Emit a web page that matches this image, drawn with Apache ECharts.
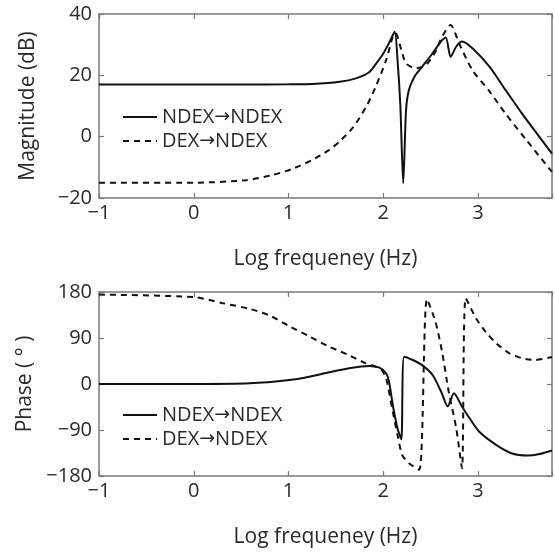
<!DOCTYPE html>
<html>
<head>
<meta charset="utf-8">
<script src="https://cdn.jsdelivr.net/npm/echarts@6/dist/echarts.min.js"></script>
<style>
html,body{margin:0;padding:0;background:#fff;}
#chart{width:555px;height:552px;}
</style>
</head>
<body>
<div id="chart"></div>
<script>
// ---- data ----
var seriesNames = ['NDEX\u2192NDEX', 'DEX\u2192NDEX'];
var xTickLabels = ['-1', '0', '1', '2', '3'];
var magTicks = [-20, 0, 20, 40];
var phaseTicks = [-180, -90, 0, 90, 180];

// Magnitude, NDEX -> NDEX (solid)
var magSolidX = [-1, 0, 0.5, 1.0, 1.25, 1.54, 1.71, 1.85, 1.94, 1.99, 2.06, 2.12, 2.15, 2.18, 2.21, 2.24, 2.27, 2.33, 2.41, 2.52, 2.62, 2.66, 2.71, 2.77, 2.83, 2.94, 3.12, 3.29, 3.46, 3.78];
var magSolidY = [17, 17, 17, 17.1, 17.2, 17.9, 19.0, 21.0, 24.5, 26.6, 30.5, 34.2, 25, 10, -15.2, 8.7, 15.2, 19.6, 22.8, 27.2, 31.5, 32.3, 26, 29.4, 31.0, 28.8, 22.8, 15.2, 7.7, -5.5];

// Magnitude, DEX -> NDEX (dashed)
var magDashX = [-1, 0, 0.55, 0.83, 1.04, 1.25, 1.43, 1.54, 1.68, 1.82, 1.92, 2.03, 2.10, 2.13, 2.19, 2.24, 2.34, 2.45, 2.55, 2.62, 2.71, 2.80, 2.94, 3.12, 3.29, 3.52, 3.78];
var magDashY = [-15, -15, -14.2, -12.5, -10.5, -7.6, -4.3, -1.5, 3, 9.8, 16.3, 25, 32.6, 33.8, 28.3, 23.9, 22.3, 23.4, 27.7, 32.6, 36.4, 30.4, 21.7, 14.8, 7.5, -1.5, -11.5];

// Phase, NDEX -> NDEX (solid)
var phSolidX = [-1, 0, 0.59, 1.01, 1.22, 1.43, 1.64, 1.85, 1.96, 2.03, 2.06, 2.10, 2.15, 2.19, 2.22, 2.31, 2.41, 2.52, 2.61, 2.68, 2.745, 2.83, 2.91, 3.01, 3.19, 3.36, 3.52, 3.65, 3.78];
var phSolidY = [0, 0, 1.3, 7.8, 14.3, 22.8, 30.7, 35.2, 32, 21, 5, -41, -87, -108, 53.5, 47, 37, 17.6, -15, -44, -18, -44, -67, -93, -119, -136, -140, -137, -130];

// Phase, DEX -> NDEX (dashed)
var phDashX = [-1, 0, 0.31, 0.59, 0.80, 1.01, 1.22, 1.43, 1.63, 1.81, 1.92, 1.98, 2.03, 2.10, 2.15, 2.20, 2.27, 2.38, 2.46, 2.55, 2.62, 2.69, 2.77, 2.83, 2.87, 2.98, 3.08, 3.19, 3.33, 3.47, 3.6, 3.78];
var phDashY = [175, 170, 158, 147, 134, 113, 93, 73, 57, 41, 34, 28, 11, -54, -100, -139, -155, -168, 166, 122, 63, -15, -87, -165, 168, 128, 102, 80, 60, 50, 47, 53];

function zip(xs, ys) { return xs.map(function (x, i) { return [x, ys[i]]; }); }

var FONT = 'Open Sans';
var TXT = '#2a2a2a';
var FRAME = '#7a7a7a';
function minus(v) { return String(v).replace('-', '\u2212'); }

function xAxes(gridIndex) {
  var common = {
    type: 'value', gridIndex: gridIndex, min: -1, max: 3.78, interval: 1,
    axisLine: { show: true, onZero: false, lineStyle: { color: FRAME, width: 1.5 } },
    axisTick: { show: true, inside: true, length: 5, lineStyle: { color: FRAME, width: 1.2 } },
    splitLine: { show: false }
  };
  var bottom = Object.assign({}, common, {
    position: 'bottom',
    name: 'Log frequeney (Hz)', nameLocation: 'middle', nameGap: 51,
    nameTextStyle: { fontFamily: FONT, fontSize: 21, color: TXT },
    axisLabel: {
      show: true, margin: 5, fontFamily: FONT, fontSize: 20, color: TXT,
      formatter: function (v) {
        var s = String(Math.round(v));
        return (Math.abs(v - Math.round(v)) < 1e-6 && xTickLabels.indexOf(s) >= 0) ? minus(s) : '';
      }
    }
  });
  var top = Object.assign({}, common, { position: 'top', axisLabel: { show: false } });
  return [bottom, top];
}

function yAxes(gridIndex, min, max, interval, name, ticks) {
  var common = {
    type: 'value', gridIndex: gridIndex, min: min, max: max, interval: interval,
    axisLine: { show: true, onZero: false, lineStyle: { color: FRAME, width: 1.5 } },
    axisTick: { show: true, inside: true, length: 5, lineStyle: { color: FRAME, width: 1.2 } },
    splitLine: { show: false }
  };
  var left = Object.assign({}, common, {
    position: 'left',
    name: name, nameLocation: 'middle', nameGap: 60,
    nameTextStyle: { fontFamily: FONT, fontSize: 21, color: TXT },
    axisLabel: {
      show: true, margin: 7, fontFamily: FONT, fontSize: 20, color: TXT,
      formatter: function (v) { return ticks.indexOf(v) >= 0 ? minus(v) : ''; }
    }
  });
  var right = Object.assign({}, common, { position: 'right', axisLabel: { show: false } });
  return [left, right];
}

function lineSeries(name, xi, yi, data, dashed) {
  return {
    type: 'line', name: name, xAxisIndex: xi, yAxisIndex: yi, data: data,
    showSymbol: false, symbol: 'none', smooth: 0.25, silent: true,
    lineStyle: { color: '#111', width: 2, type: dashed ? [6, 5] : 'solid' },
    itemStyle: { color: '#111' },
    animation: false
  };
}

function legend(top) {
  return {
    data: seriesNames, orient: 'vertical', left: 117, top: top,
    itemWidth: 34, itemHeight: 14, itemGap: 4,
    selectedMode: false,
    itemStyle: { opacity: 0 },
    formatter: function (name) {
      var parts = name.split('\u2192');
      return '{t|' + parts[0] + '}{a|\u2192}{t|' + parts[1] + '}';
    },
    textStyle: {
      fontFamily: FONT, fontSize: 20, color: TXT,
      rich: {
        t: { fontFamily: FONT, fontSize: 20, color: TXT },
        a: { fontFamily: 'DejaVu Sans', fontSize: 19, color: TXT }
      }
    }
  };
}

var xa = xAxes(0).concat(xAxes(1));
var ya = yAxes(0, -20, 40, 20, 'Magnitude (dB)', magTicks).concat(yAxes(1, -180, 180, 90, 'Phase ( \u00B0 )', phaseTicks));

var option = {
  backgroundColor: '#fff',
  animation: false,
  grid: [
    { left: 99, right: 2, top: 14, height: 184 },
    { left: 99, right: 2, top: 292, height: 184 }
  ],
  legend: [legend(102), legend(400)],
  xAxis: xa,
  yAxis: ya,
  series: [
    lineSeries(seriesNames[0], 0, 0, zip(magSolidX, magSolidY), false),
    lineSeries(seriesNames[1], 0, 0, zip(magDashX, magDashY), true),
    lineSeries(seriesNames[0], 2, 2, zip(phSolidX, phSolidY), false),
    lineSeries(seriesNames[1], 2, 2, zip(phDashX, phDashY), true)
  ]
};

var chart = echarts.init(document.getElementById('chart'), null, { renderer: 'canvas' });
chart.setOption(option);
</script>
</body>
</html>
